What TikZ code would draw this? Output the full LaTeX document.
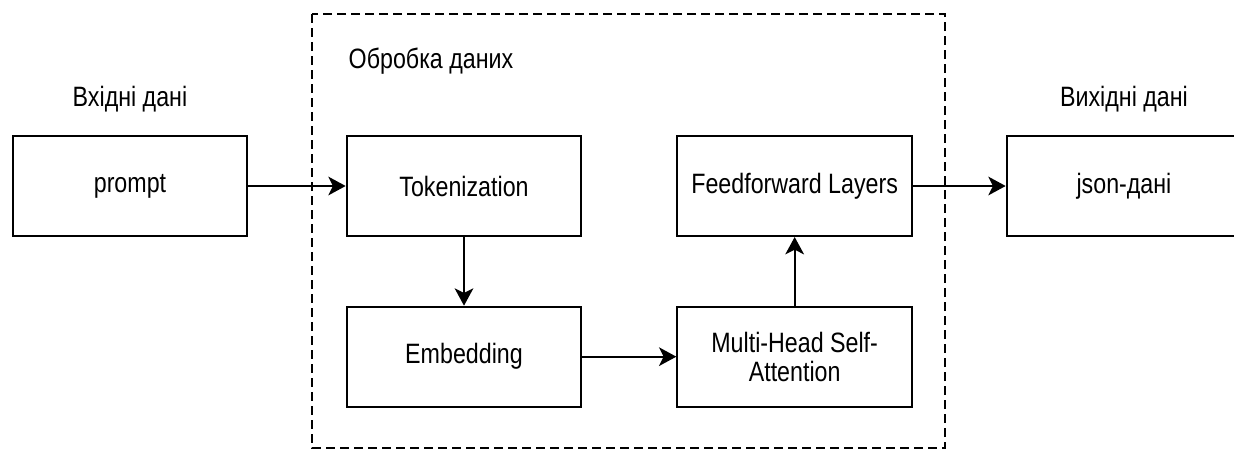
\documentclass[tikz,border=0pt]{standalone}
\usepackage{fontspec}
\setmainfont[FakeStretch=0.83]{Liberation Sans}
\usetikzlibrary{arrows.meta}
\usetikzlibrary{positioning}
\tikzset{
  blok/.style = {draw=black, line width=1.5pt, rectangle, align=center,
    minimum width=176pt, minimum height=75pt, inner sep=0pt,
    font=\fontsize{21}{21.5}\selectfont},% box of one step
  napys/.style = {font=\fontsize{21}{21.5}\selectfont},% caption over a part
  strilka/.style = {line width=1.5pt,
    -{Stealth[length=13pt,width=14pt,inset=3.5pt]}},
  ramka/.style = {line width=1.5pt, dash pattern=on 6.5pt off 4pt}
}

\begin{document}
\begin{tikzpicture}[x=0.75pt,y=-0.75pt]
\useasboundingbox (0,0) rectangle (1234,450);
\clip (0,0) rectangle (1234,450);

% processing frame
\draw[ramka] (312,14) rectangle (945,448);

\node[blok] (prompt) at (130,186) {prompt};
\node[blok, right=73pt of prompt] (token) {Tokenization};
\node[blok, right=70.5pt of token] (ff) {Feedforward Layers};
\node[blok, right=69.5pt of ff] (json) {json-дані};
\node[blok, below=51.5pt of token] (embed) {Embedding};
\node[blok, below=51.5pt of ff] (mhsa) {Multi-Head Self-\\Attention};

\node[napys, anchor=base] at ([yshift=21.75pt]prompt.north) {Вхідні дані};
\node[napys, anchor=base] at ([yshift=21.75pt]json.north) {Вихідні дані};
\node[napys, anchor=base west] at (344,68) {Обробка даних};

\draw[strilka] (prompt) -- (token);
\draw[strilka] (token) -- (embed);
\draw[strilka] (embed) -- (mhsa);
\draw[strilka] (mhsa) -- (ff);
\draw[strilka] (ff) -- (json);
\end{tikzpicture}
\end{document}
